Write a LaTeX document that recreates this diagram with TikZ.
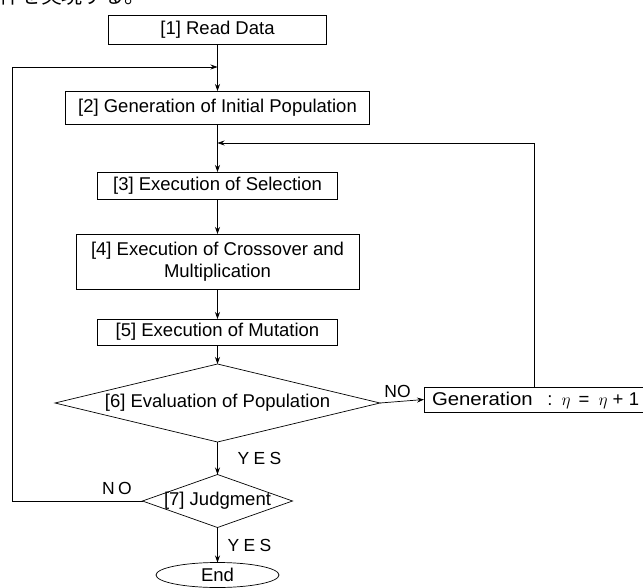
\documentclass[tikz,border=0pt]{standalone}
\usepackage{fontspec}
\setmainfont{Liberation Sans}
\newfontfamily\jpfont{Noto Sans CJK JP}
\usetikzlibrary{shapes.geometric,arrows.meta}
\begin{document}
\begin{tikzpicture}[x=1pt,y=-1pt,
  font=\fontsize{18.5}{22}\selectfont,
  every node/.style={inner sep=0pt, outer sep=0pt},
  procbox/.style={draw, rectangle, line width=0.7pt, align=center},
  decision/.style={draw, diamond, line width=0.7pt},
  endbox/.style={draw, ellipse, line width=0.7pt},
  conn/.style={line width=0.7pt, -{Stealth[length=7pt,width=5pt]}},
  lbl/.style={font=\fontsize{17.5}{20}\selectfont}]
\clip (0,0) rectangle (643,587);
\fill[white] (0,0) rectangle (643,587);
% clipped caption fragment at the top
\node[anchor=base west, font=\jpfont\fontsize{21}{21}\selectfont] (cap) at (-1,3) {件を実現する。};
% process boxes
\node[procbox, minimum width=218pt, minimum height=29pt] (b1) at (217.5,29.5) {[1] Read Data};
\node[procbox, minimum width=304pt, minimum height=33pt] (b2) at (217.5,107.5) {[2] Generation of Initial Population};
\node[procbox, minimum width=240pt, minimum height=27pt] (b3) at (217.5,185.5) {[3] Execution of Selection};
\node[procbox, minimum width=283pt, minimum height=55pt] (b4) at (217.5,261.5) {[4] Execution of Crossover and\\Multiplication};
\node[procbox, minimum width=240pt, minimum height=26pt] (b5) at (217.5,332) {[5] Execution of Mutation};
% decisions
\node[decision, minimum width=325pt, minimum height=78pt] (d6) at (217.5,403) {};
\node (t6) at (d6.center) {[6] Evaluation of Population};
\node[decision, minimum width=150pt, minimum height=53pt] (d7) at (217.5,501) {};
\node (t7) at (d7.center) {[7] Judgment};
% end
\node[endbox, minimum width=123pt, minimum height=25pt] (end) at (217.5,575) {End};
% generation box (right part cut by the picture edge)
\node[procbox, minimum width=240pt, minimum height=25pt, anchor=west] (gen) at (424,399.5) {};
\node[anchor=west] (tg) at (432,400) {\rlap{\scalebox{1.1}[1]{Generation}}\hspace{118pt}\makebox[0pt]{:}\hspace{16pt}\makebox[0pt]{$\eta$}\hspace{18pt}\makebox[0pt]{=}\hspace{19pt}\makebox[0pt]{$\eta$}\hspace{15pt}\makebox[0pt]{+}\hspace{16pt}\makebox[0pt]{1}};
% junction coordinates
\coordinate (j1) at (217.5,67);
\coordinate (j2) at (217.5,143);
\coordinate (lft) at (12,0);
\coordinate (rgt) at (534,0);
% connectors
\draw[conn] (b1.south) -- (b2.north);
\draw[conn] (b2.south) -- (b3.north);
\draw[conn] (b3.south) -- (b4.north);
\draw[conn] (b4.south) -- (b5.north);
\draw[conn] (b5.south) -- (d6.north);
\draw[conn] (d6.east) -- (gen.west) node[lbl, pos=0.4, above=4pt] {NO};
\draw[conn] (d6.south) -- (d7.north) node[lbl, midway, right=20pt] {Y\hspace{0.25em}E\hspace{0.25em}S};
\draw[conn] (d7.south) -- (end.north) node[lbl, midway, right=10pt] {Y\hspace{0.25em}E\hspace{0.25em}S};
\draw[conn] (d7.west) -- (d7.west -| lft) |- (j1);
\node[lbl] (no7) at (117,488) {N\hspace{0.2em}O};
\draw[conn] (gen.north -| rgt) |- (j2);
\end{tikzpicture}
\end{document}
